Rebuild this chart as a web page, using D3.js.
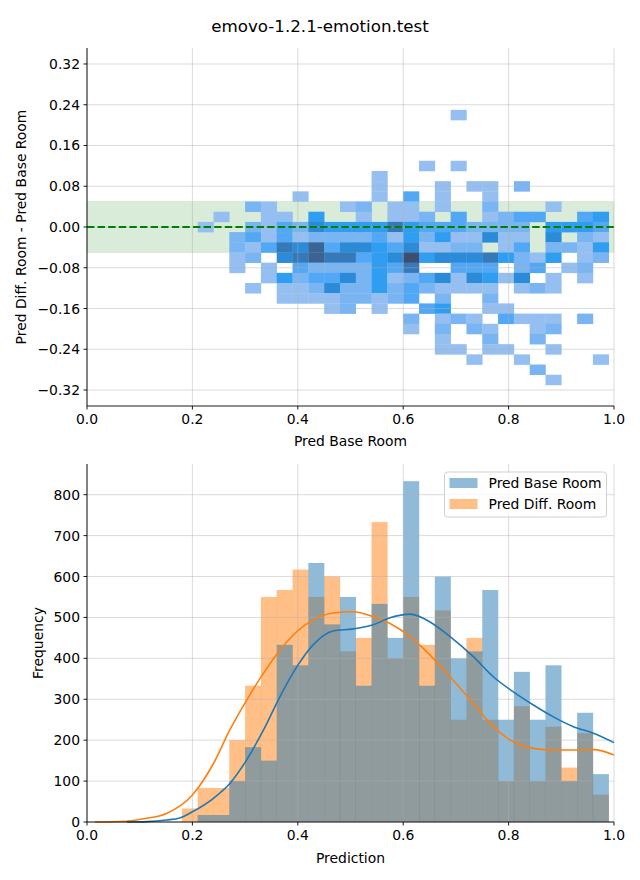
<!DOCTYPE html>
<html><head><meta charset="utf-8">
<script src="https://cdn.jsdelivr.net/npm/d3@7/dist/d3.min.js"></script>
<style>body{margin:0;background:#fff} svg{display:block} text{font-family:"DejaVu Sans",sans-serif;fill:#000}</style>
</head><body><svg id="c" width="640" height="880"></svg>
<script>
// ---------------- data ----------------
const title = "emovo-1.2.1-emotion.test";
const topXLabel = "Pred Base Room";
const topYLabel = "Pred Diff. Room - Pred Base Room";
const botXLabel = "Prediction";
const botYLabel = "Frequency";
const seriesNames = ["Pred Base Room", "Pred Diff. Room"];

const topXTicks = [0.0, 0.2, 0.4, 0.6, 0.8, 1.0];
const topYTicks = [0.32, 0.24, 0.16, 0.08, 0.00, -0.08, -0.16, -0.24, -0.32];
const botXTicks = [0.0, 0.2, 0.4, 0.6, 0.8, 1.0];
const botYTicks = [0, 100, 200, 300, 400, 500, 600, 700, 800];

// 2D histogram bin edges
const hxEdges = [0.21,0.24,0.27,0.30,0.33,0.36,0.39,0.42,0.45,0.48,0.51,0.54,0.57,0.60,0.63,0.66,0.69,0.72,0.75,0.78,0.81,0.84,0.87,0.90,0.93,0.96,0.99];
const hyEdges = [0.23,0.21,0.19,0.17,0.15,0.13,0.11,0.09,0.07,0.05,0.03,0.01,-0.01,-0.03,-0.05,-0.07,-0.09,-0.11,-0.13,-0.15,-0.17,-0.19,-0.21,-0.23,-0.25,-0.27,-0.29,-0.31];
// counts per cell (row = y bin from top, column = x bin), '.' = empty
const heatRows = [
"................1.........",
"..........................",
"..........................",
"..........................",
"..........................",
"..............1.1.........",
"...........1..............",
"...........1...1.11.2.....",
"......1....1.3.1..1.......",
"...21....12.11.1..2...1...",
".1..11.4..1.112.3.1233..34",
"1..213254444643332222.4443",
"..2313122223142411511.5.21",
"..2136573554351122.13.2214",
"..12.567663458455564214.12",
"..1.1.32222436..333.23.12.",
"....14233524123515415.1.1.",
"...1.11252242321111.121...",
".....111122123.2..2.......",
"........12.1..34..11......",
".............2.121.3111.2.",
".............1.2.21..12...",
"...............1..2..2....",
"...............11.11..1...",
".................1..1....1",
".....................2....",
"......................1..."
];
const heatLevels = [1,2,3,4,5,6,7,8];
const heatColors = ["#94bff0","#7ab5f3","#52a8f5","#2f9ef0","#2b8bd8","#3579b9","#3a6494","#3c4f6e"];
const bandRange = [-0.05, 0.05];
const refLine = 0.0;

// 1D histograms
const histEdges = [0.18,0.21,0.24,0.27,0.30,0.33,0.36,0.39,0.42,0.45,0.48,0.51,0.54,0.57,0.60,0.63,0.66,0.69,0.72,0.75,0.78,0.81,0.84,0.87,0.90,0.93,0.96,0.99];
const baseCounts = [0,17,17,100,183,150,433,383,633,483,550,333,533,450,833,333,600,400,417,567,250,367,250,383,100,267,117];
const diffCounts = [33,83,83,200,333,550,567,617,550,600,417,450,733,400,550,433,517,250,450,250,100,283,100,233,133,217,67];

// KDE curves
const baseKdeX = [0.075,0.113,0.151,0.176,0.2,0.24,0.271,0.303,0.335,0.366,0.398,0.429,0.467,0.505,0.543,0.575,0.613,0.651,0.689,0.733,0.771,0.809,0.847,0.885,0.923,0.961,1.0];
const baseKdeY = [0,1,5,10,25,58,94,152,225,306,379,433,467,472,482,499,508,489,453,404,355,318,286,257,233,217,194];
const diffKdeX = [0.015,0.075,0.113,0.151,0.2,0.24,0.271,0.303,0.335,0.366,0.398,0.429,0.467,0.505,0.543,0.575,0.613,0.651,0.689,0.733,0.771,0.809,0.847,0.885,0.923,0.961,1.0];
const diffKdeY = [0,2,9,21,66,143,225,298,364,420,465,494,511,514,502,485,453,408,355,290,233,196,180,176,176,177,164];

const blue = "#1f77b4", orange = "#ff7f0e";

// ---------------- drawing ----------------
const svg = d3.select("#c");
const FS = 13.9;
const L = 87, R = 614;

svg.append("text").attr("x", 320).attr("y", 26).attr("text-anchor","middle")
  .attr("dominant-baseline","central").style("font-size","16.7px").text(title);

function gridAndAxes(g, x, y, xt, yt, yfmt, xfmt, top, bottom) {
  const grid = g.append("g").attr("stroke","#b0b0b0").attr("stroke-opacity",0.5).attr("stroke-width",0.9);
  xt.forEach(v => grid.append("line").attr("x1",x(v)).attr("x2",x(v)).attr("y1",top).attr("y2",bottom));
  yt.forEach(v => grid.append("line").attr("x1",L).attr("x2",R).attr("y1",y(v)).attr("y2",y(v)));
  return grid;
}
function drawAxes(g, x, y, xt, yt, yfmt, xfmt, top, bottom) {
  const ax = g.append("g");
  ax.append("line").attr("x1",L).attr("x2",L).attr("y1",top).attr("y2",bottom).attr("stroke","#000").attr("stroke-width",0.9);
  ax.append("line").attr("x1",L).attr("x2",R).attr("y1",bottom).attr("y2",bottom).attr("stroke","#000").attr("stroke-width",0.9);
  xt.forEach(v => {
    ax.append("line").attr("x1",x(v)).attr("x2",x(v)).attr("y1",bottom).attr("y2",bottom+3.5).attr("stroke","#000").attr("stroke-width",0.9);
    ax.append("text").attr("x",x(v)).attr("y",bottom+8).attr("text-anchor","middle")
      .attr("dominant-baseline","hanging").style("font-size",FS+"px").text(xfmt(v));
  });
  yt.forEach(v => {
    ax.append("line").attr("x1",L-3.5).attr("x2",L).attr("y1",y(v)).attr("y2",y(v)).attr("stroke","#000").attr("stroke-width",0.9);
    ax.append("text").attr("x",L-7).attr("y",y(v)).attr("text-anchor","end")
      .attr("dominant-baseline","central").style("font-size",FS+"px").text(yfmt(v));
  });
}
const minus = s => s.replace("-", "\u2212");

// ---- top: 2D histogram ----
const tTop = 48, tBot = 406;
const yMaxAbs = 0.3514;
const xT = d3.scaleLinear().domain([0,1]).range([L,R]);
const yT = d3.scaleLinear().domain([-yMaxAbs, yMaxAbs]).range([tBot, tTop]);
const gT = svg.append("g");
gT.append("rect").attr("x",xT(0)).attr("width",xT(1)-xT(0))
  .attr("y",yT(bandRange[1])).attr("height",yT(bandRange[0])-yT(bandRange[1]))
  .attr("fill","green").attr("fill-opacity",0.15).attr("stroke","green").attr("stroke-opacity",0.08);
const color = d3.scaleOrdinal().domain(heatLevels).range(heatColors);
const cells = [];
heatRows.forEach((row, r) => {
  row.split("").forEach((ch, c) => {
    if (ch !== ".") cells.push({x0: hxEdges[c], x1: hxEdges[c+1], y0: hyEdges[r+1], y1: hyEdges[r], n: +ch});
  });
});
gT.append("g").selectAll("rect").data(cells).join("rect")
  .attr("x", d => xT(d.x0)).attr("width", d => xT(d.x1) - xT(d.x0) + 0.3)
  .attr("y", d => yT(d.y1)).attr("height", d => yT(d.y0) - yT(d.y1) + 0.3)
  .attr("fill", d => color(d.n));
gridAndAxes(gT, xT, yT, topXTicks, topYTicks, null, null, tTop, tBot);
gT.append("line").attr("x1",xT(0)).attr("x2",xT(1)).attr("y1",yT(refLine)).attr("y2",yT(refLine))
  .attr("stroke","green").attr("stroke-width",2).attr("stroke-dasharray","7.4 3.2");
drawAxes(gT, xT, yT, topXTicks, topYTicks, v => minus(d3.format(".2f")(v)), v => d3.format(".1f")(v), tTop, tBot);
svg.append("text").attr("x",(L+R)/2).attr("y",441).attr("text-anchor","middle").attr("dominant-baseline","central")
  .style("font-size",FS+"px").text(topXLabel);
svg.append("text").attr("transform",`translate(21,${(tTop+tBot)/2}) rotate(-90)`).attr("text-anchor","middle")
  .attr("dominant-baseline","central").style("font-size",FS+"px").text(topYLabel);

// ---- bottom: histograms + KDE ----
const bTop = 464, bBot = 822;
const xB = d3.scaleLinear().domain([0,1]).range([L,R]);
const yB = d3.scaleLinear().domain([0,875]).range([bBot, bTop]);
const gB = svg.append("g");
function bars(counts, col) {
  gB.append("g").selectAll("rect").data(counts.map((c,i)=>({x0:histEdges[i],x1:histEdges[i+1],c})).filter(d=>d.c>0))
    .join("rect").attr("x", d=>xB(d.x0)).attr("width", d=>xB(d.x1)-xB(d.x0)+0.2)
    .attr("y", d=>yB(d.c)).attr("height", d=>yB(0)-yB(d.c))
    .attr("fill", col).attr("fill-opacity", 0.5);
}
bars(diffCounts, orange);
bars(baseCounts, blue);
gridAndAxes(gB, xB, yB, botXTicks, botYTicks, null, null, bTop, bBot);
const line = d3.line().x(d=>xB(d[0])).y(d=>yB(d[1])).curve(d3.curveMonotoneX);
gB.append("path").attr("d", line(diffKdeX.map((v,i)=>[v,diffKdeY[i]]))).attr("fill","none").attr("stroke",orange).attr("stroke-width",1.6);
gB.append("path").attr("d", line(baseKdeX.map((v,i)=>[v,baseKdeY[i]]))).attr("fill","none").attr("stroke",blue).attr("stroke-width",1.6);
drawAxes(gB, xB, yB, botXTicks, botYTicks, v => d3.format("d")(v), v => d3.format(".1f")(v), bTop, bBot);
svg.append("text").attr("x",(L+R)/2).attr("y",858).attr("text-anchor","middle").attr("dominant-baseline","central")
  .style("font-size",FS+"px").text(botXLabel);
svg.append("text").attr("transform",`translate(38,${(bTop+bBot)/2}) rotate(-90)`).attr("text-anchor","middle")
  .attr("dominant-baseline","central").style("font-size",FS+"px").text(botYLabel);

// legend
const lg = svg.append("g").attr("transform","translate(444.5,472)");
lg.append("rect").attr("width",162).attr("height",45).attr("rx",3).attr("fill","#fff").attr("fill-opacity",0.8)
  .attr("stroke","#cccccc").attr("stroke-width",0.9);
[[blue,seriesNames[0]],[orange,seriesNames[1]]].forEach((e,i)=>{
  lg.append("rect").attr("x",5).attr("y",6+i*21).attr("width",28).attr("height",10).attr("fill",e[0]).attr("fill-opacity",0.5);
  lg.append("text").attr("x",44).attr("y",11+i*21).attr("dominant-baseline","central").style("font-size",FS+"px").text(e[1]);
});
</script></body></html>
